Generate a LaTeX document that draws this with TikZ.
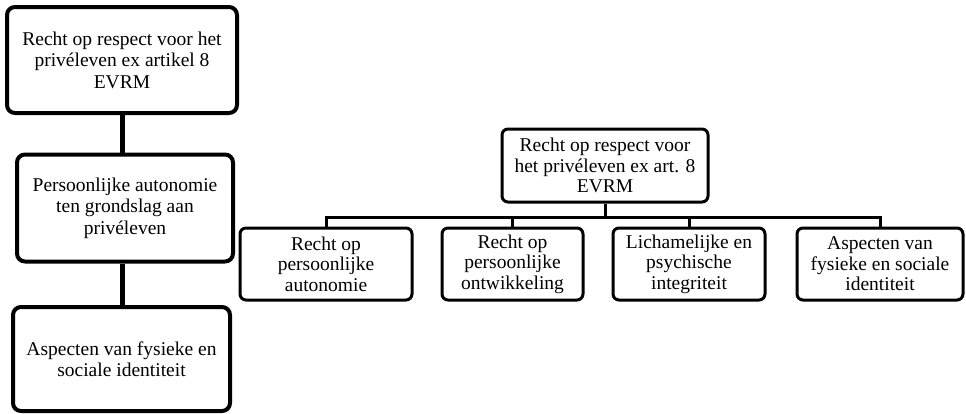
\documentclass[tikz,border=0pt]{standalone}
\usepackage{fontspec}
\setmainfont{Liberation Serif}
\usepackage{tikz}

\begin{document}
\begin{tikzpicture}[x=1pt,y=-1pt,
			mybox/.style={draw,rounded corners=8pt,line width=4pt,align=center,inner sep=0pt,font=\fontsize{19.5}{21.5}\selectfont},
			mysmallbox/.style={draw,rounded corners=6pt,line width=3pt,align=center,inner sep=0pt,minimum height=72pt,font=\fontsize{19.5}{20.5}\selectfont},
			myline/.style={line width=5pt},
			mythinline/.style={line width=3pt}
			]
			\useasboundingbox (0,0) rectangle (966,413);
			% left column
			\node[mybox, minimum width=230pt, minimum height=106pt] (l1) at (122,60) {Recht op respect voor het\\priv\'eleven ex artikel 8\\EVRM};
			\node[mybox, minimum width=216pt, minimum height=107pt] (l2) at (125,208) {Persoonlijke autonomie\\ten grondslag aan\\priv\'eleven};
			\node[mybox, minimum width=217pt, minimum height=104pt] (l3) at (121.5,359) {Aspecten van fysieke en\\sociale identiteit};
			\draw[myline] (l1.south) -- (l1.south |- l2.north);
			\draw[myline] (l1.south |- l2.south) -- (l1.south |- l3.north);
			%%%%%%%%%%%%%%%
			% right tree
			\node[mysmallbox, minimum width=206pt, minimum height=73pt] (r) at (605,165.5) {Recht op respect voor\\het priv\'eleven ex art. 8\\EVRM};
			\coordinate (bus) at (605,217);
			\node[mysmallbox, minimum width=172pt] (c1) at (326,264) {Recht op\\persoonlijke\\autonomie};
			\node[mysmallbox, minimum width=141pt] (c2) at (512.5,264) {Recht op\\persoonlijke\\ontwikkeling};
			\node[mysmallbox, minimum width=152pt] (c3) at (689,264) {Lichamelijke en\\psychische\\integriteit};
			\node[mysmallbox, minimum width=166pt] (c4) at (880,264) {Aspecten van\\fysieke en sociale\\identiteit};
			\draw[mythinline] (r.south) -- (bus);
			\draw[mythinline] (c1.north) |- (bus) -| (c4.north);
			\draw[mythinline] (c2.north) -- (c2.north |- bus);
			\draw[mythinline] (c3.north) -- (c3.north |- bus);
		\end{tikzpicture}
\end{document}
